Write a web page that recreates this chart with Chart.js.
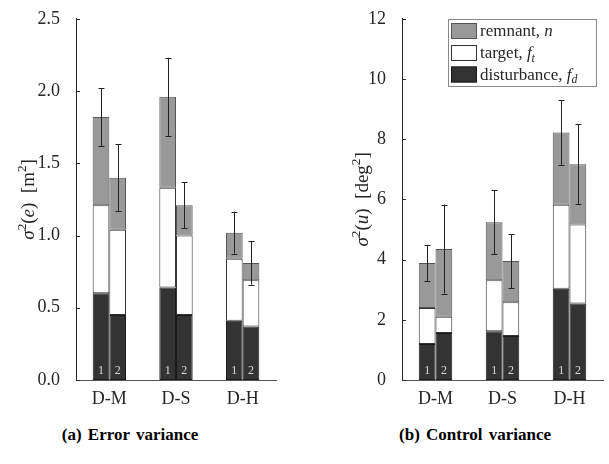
<!DOCTYPE html>
<html>
<head>
<meta charset="utf-8">
<script src="https://cdn.jsdelivr.net/npm/chart.js@4.4.0/dist/chart.umd.min.js"></script>
<style>
  body { margin: 0; background: #fff; width: 609px; height: 464px; position: relative; overflow: hidden; font-family: "Liberation Serif", serif; }
  canvas { position: absolute; top: 0; }
  #chartA { left: 0; }
  #chartB { left: 300px; }
  .cap { position: absolute; top: 425px; font-family: "Liberation Serif", serif; font-weight: bold; font-size: 17px; color: #000; transform: translateX(-50%); white-space: nowrap; word-spacing: 2px; }
</style>
</head>
<body>
<canvas id="chartA" width="300" height="415"></canvas>
<canvas id="chartB" width="309" height="415"></canvas>
<div class="cap" style="left:130px">(a) Error variance</div>
<div class="cap" style="left:475px">(b) Control variance</div>
<script>
// conditions
const groups = ['D-M', 'D-S', 'D-H'];

// error variance, run 1 and run 2 (segment sizes, m^2)
const errDist1 = [0.60, 0.64, 0.41];
const errTarget1 = [0.61, 0.69, 0.43];
const errRemnant1 = [0.61, 0.63, 0.18];
const errSd1 = [0.20, 0.27, 0.145];
const errDist2 = [0.45, 0.45, 0.37];
const errTarget2 = [0.59, 0.55, 0.32];
const errRemnant2 = [0.36, 0.21, 0.12];
const errSd2 = [0.23, 0.16, 0.15];

// control variance, run 1 and run 2 (segment sizes, deg^2)
const ctlDist1 = [1.20, 1.62, 3.03];
const ctlTarget1 = [1.19, 1.69, 2.79];
const ctlRemnant1 = [1.50, 1.93, 2.40];
const ctlSd1 = [0.60, 1.07, 1.07];
const ctlDist2 = [1.56, 1.46, 2.54];
const ctlTarget2 = [0.54, 1.12, 2.63];
const ctlRemnant2 = [2.25, 1.37, 2.00];
const ctlSd2 = [1.48, 0.90, 1.32];

const SERIF = '"Liberation Serif", "Times New Roman", serif';
const INK = '#262626';
const DARK = '#333333', WHITE = '#ffffff', GRAY = '#999999';

function seg(label, data, stack, fill, border) {
  return { label, data, stack, backgroundColor: fill, borderColor: border, borderWidth: 1, borderSkipped: false };
}

// draw a run of text pieces with mixed styles, starting at x (baseline y)
function drawPieces(ctx, pieces, x, y, size, measureOnly) {
  let cx = x;
  for (const p of pieces) {
    const s = p.sub || p.sup ? size * 0.7 : size;
    ctx.font = (p.it ? 'italic ' : '') + s + 'px ' + SERIF;
    const dy = p.sup ? -size * 0.4 : p.sub ? size * 0.22 : 0;
    if (!measureOnly) ctx.fillText(p.t, cx, y + dy);
    cx += ctx.measureText(p.t).width;
  }
  return cx - x;
}

function makeChart(id, o) {
  const extras = {
    id: 'extras',
    afterDatasetsDraw(chart) {
      const ctx = chart.ctx, ys = chart.scales.y, xs = chart.scales.x;
      ctx.save();
      // error bars on top of each stack
      [[2, o.run1, o.sd1], [5, o.run2, o.sd2]].forEach(([di, run, sd]) => {
        const meta = chart.getDatasetMeta(di);
        meta.data.forEach((bar, i) => {
          const total = run[0][i] + run[1][i] + run[2][i];
          const yt = ys.getPixelForValue(total + sd[i]);
          const yb = ys.getPixelForValue(total - sd[i]);
          const x = Math.round(bar.x) + 0.5;
          ctx.strokeStyle = '#222';
          ctx.lineWidth = 1;
          ctx.beginPath();
          ctx.moveTo(x, yt); ctx.lineTo(x, yb);
          ctx.moveTo(x - 3, Math.round(yt) + 0.5); ctx.lineTo(x + 3, Math.round(yt) + 0.5);
          ctx.moveTo(x - 3, Math.round(yb) + 0.5); ctx.lineTo(x + 3, Math.round(yb) + 0.5);
          ctx.stroke();
        });
      });
      // run numbers in the dark segments
      ctx.fillStyle = '#d8d8d8';
      ctx.font = '12px ' + SERIF;
      ctx.textAlign = 'center';
      ctx.textBaseline = 'middle';
      [[0, '1'], [3, '2']].forEach(([di, txt]) => {
        chart.getDatasetMeta(di).data.forEach(bar => ctx.fillText(txt, bar.x, ys.bottom - 9));
      });
      // inward y tick marks
      ctx.strokeStyle = INK;
      ctx.beginPath();
      ys.ticks.forEach(t => {
        const y = Math.round(ys.getPixelForValue(t.value)) + 0.5;
        ctx.moveTo(xs.left, y); ctx.lineTo(xs.left + 4, y);
      });
      ctx.stroke();
      // rotated y axis title
      ctx.fillStyle = INK;
      ctx.textAlign = 'left';
      ctx.textBaseline = 'alphabetic';
      const size = 19;
      const w = drawPieces(ctx, o.title, 0, 0, size, true);
      ctx.translate(o.titleX, (ys.top + ys.bottom) / 2);
      ctx.rotate(-Math.PI / 2);
      drawPieces(ctx, o.title, -w / 2, 0, size, false);
      ctx.restore();
      if (o.legend) drawLegend(chart);
    }
  };

  return new Chart(document.getElementById(id), {
    type: 'bar',
    data: {
      labels: groups,
      datasets: [
        seg('disturbance', o.run1[0], '1', DARK, '#1a1a1a'),
        seg('target', o.run1[1], '1', WHITE, '#333'),
        seg('remnant', o.run1[2], '1', GRAY, '#555'),
        seg('disturbance', o.run2[0], '2', DARK, '#1a1a1a'),
        seg('target', o.run2[1], '2', WHITE, '#333'),
        seg('remnant', o.run2[2], '2', GRAY, '#555')
      ]
    },
    options: {
      responsive: false,
      animation: false,
      layout: { padding: { top: 12, right: o.padRight, left: 0, bottom: 0 } },
      datasets: { bar: { barPercentage: 1, categoryPercentage: 0.5 } },
      plugins: { legend: { display: false }, tooltip: { enabled: false } },
      scales: {
        x: {
          stacked: true,
          grid: { display: false, drawTicks: false },
          border: { color: '#555' },
          ticks: { color: INK, font: { family: SERIF, size: 18 }, padding: 8 },
          afterFit: s => { s.height = 35; }
        },
        y: {
          stacked: true,
          min: 0,
          max: o.max,
          grid: { display: false },
          border: { color: INK },
          ticks: {
            stepSize: o.step,
            color: INK,
            padding: 8,
            font: { family: SERIF, size: 18 },
            callback: v => o.step < 1 ? v.toFixed(1) : String(v)
          },
          afterFit: s => { s.width = o.yWidth; }
        }
      }
    },
    plugins: [extras]
  });
}

function drawLegend(chart) {
  const ctx = chart.ctx, a = chart.chartArea;
  const bx = a.left + 46, by = 19, bw = 148, bh = 67;
  ctx.save();
  ctx.fillStyle = '#fff';
  ctx.fillRect(bx, by, bw, bh);
  ctx.strokeStyle = '#888';
  ctx.lineWidth = 1;
  ctx.strokeRect(bx + 0.5, by + 0.5, bw, bh);
  const rows = [
    { fill: GRAY, stroke: '#555', text: [{ t: 'remnant, ' }, { t: 'n', it: true }] },
    { fill: WHITE, stroke: '#333', text: [{ t: 'target, ' }, { t: 'f', it: true }, { t: 't', it: true, sub: true }] },
    { fill: DARK, stroke: '#1a1a1a', text: [{ t: 'disturbance, ' }, { t: 'f', it: true }, { t: 'd', it: true, sub: true }] }
  ];
  const rowY = [31, 53, 74.5];
  rows.forEach((r, i) => {
    const cy = rowY[i];
    ctx.fillStyle = r.fill;
    ctx.fillRect(bx + 3, cy - 8, 26, 16);
    ctx.strokeStyle = r.stroke;
    ctx.strokeRect(bx + 3.5, cy - 7.5, 25, 15);
    ctx.fillStyle = INK;
    ctx.textAlign = 'left';
    ctx.textBaseline = 'alphabetic';
    drawPieces(ctx, r.text, bx + 32, cy + 5, 17, false);
  });
  ctx.restore();
}

makeChart('chartA', {
  run1: [errDist1, errTarget1, errRemnant1], sd1: errSd1,
  run2: [errDist2, errTarget2, errRemnant2], sd2: errSd2,
  max: 2.5, step: 0.5, yWidth: 76, padRight: 24, titleX: 34,
  title: [{ t: 'σ', it: true }, { t: '2', sup: true }, { t: '(' }, { t: 'e', it: true }, { t: ')\u2002[m' }, { t: '2', sup: true }, { t: ']' }]
});

makeChart('chartB', {
  run1: [ctlDist1, ctlTarget1, ctlRemnant1], sd1: ctlSd1,
  run2: [ctlDist2, ctlTarget2, ctlRemnant2], sd2: ctlSd2,
  max: 12, step: 2, yWidth: 102, padRight: 6, titleX: 68, legend: true,
  title: [{ t: 'σ', it: true }, { t: '2', sup: true }, { t: '(' }, { t: 'u', it: true }, { t: ')\u2002[deg' }, { t: '2', sup: true }, { t: ']' }]
});
</script>
</body>
</html>
